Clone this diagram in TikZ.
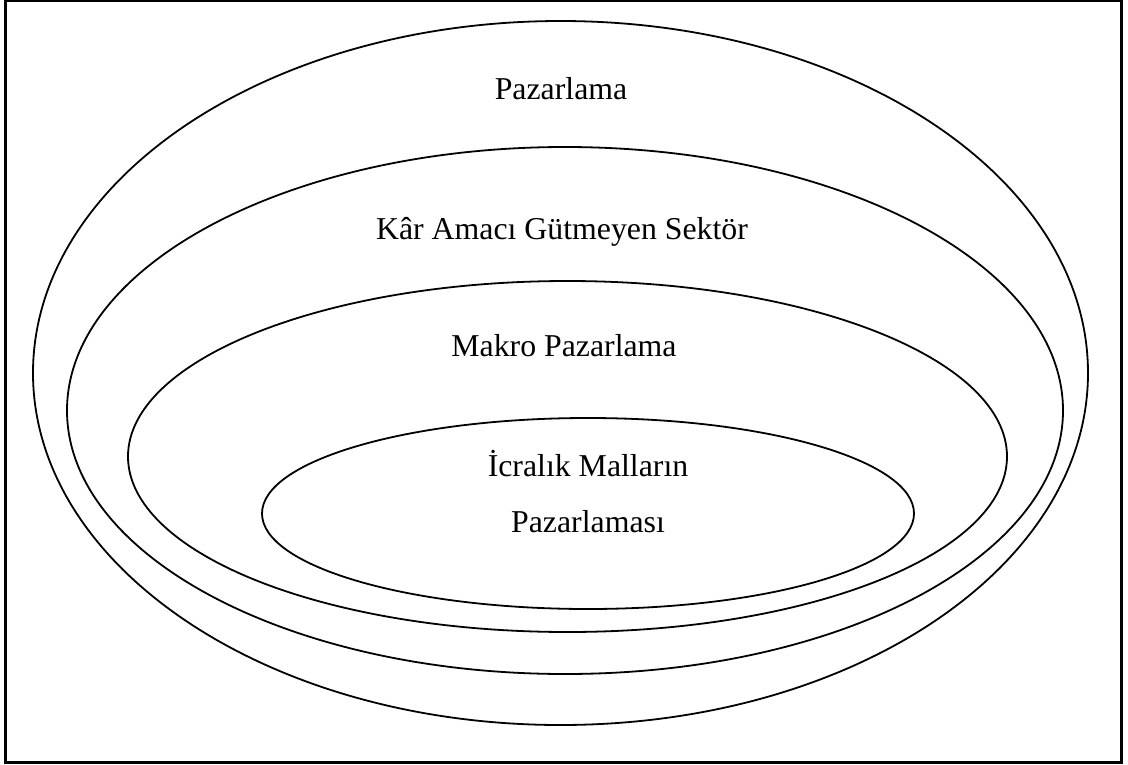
\documentclass[tikz,border=0pt]{standalone}
\usepackage{fontspec}
\setmainfont{Liberation Serif}
\begin{document}
\begin{tikzpicture}[x=1pt,y=-1pt,
  ring/.style={draw=black,line width=1.8pt},
  frame/.style={draw=black,line width=3pt},
  lbl/.style={font=\fontsize{31.8}{56}\selectfont,inner sep=0pt,anchor=base}]
\useasboundingbox (0,0) rectangle (1128,764);
% outer frame
\draw[frame] (5,0) rectangle (1121,762);
% nested sets, outermost first
\draw[ring] (560.5,373) ellipse [x radius=527.5pt, y radius=352pt];
\draw[ring] (565,410.5) ellipse [x radius=498pt, y radius=263.5pt];
\draw[ring] (567.5,456.5) ellipse [x radius=439.5pt, y radius=175.5pt];
\draw[ring] (588,513.5) ellipse [x radius=326pt, y radius=95.5pt];
% labels
\node[lbl] (paz) at (561,99) {Pazarlama};
\node[lbl] (kar) at (562,239) {Kâr Amacı Gütmeyen Sektör};
\node[lbl] (makro) at (564,356) {Makro Pazarlama};
\node[lbl] (icra1) at (588,476) {İcralık Malların};
\node[lbl] (icra2) at (588,532) {Pazarlaması};
\end{tikzpicture}
\end{document}
